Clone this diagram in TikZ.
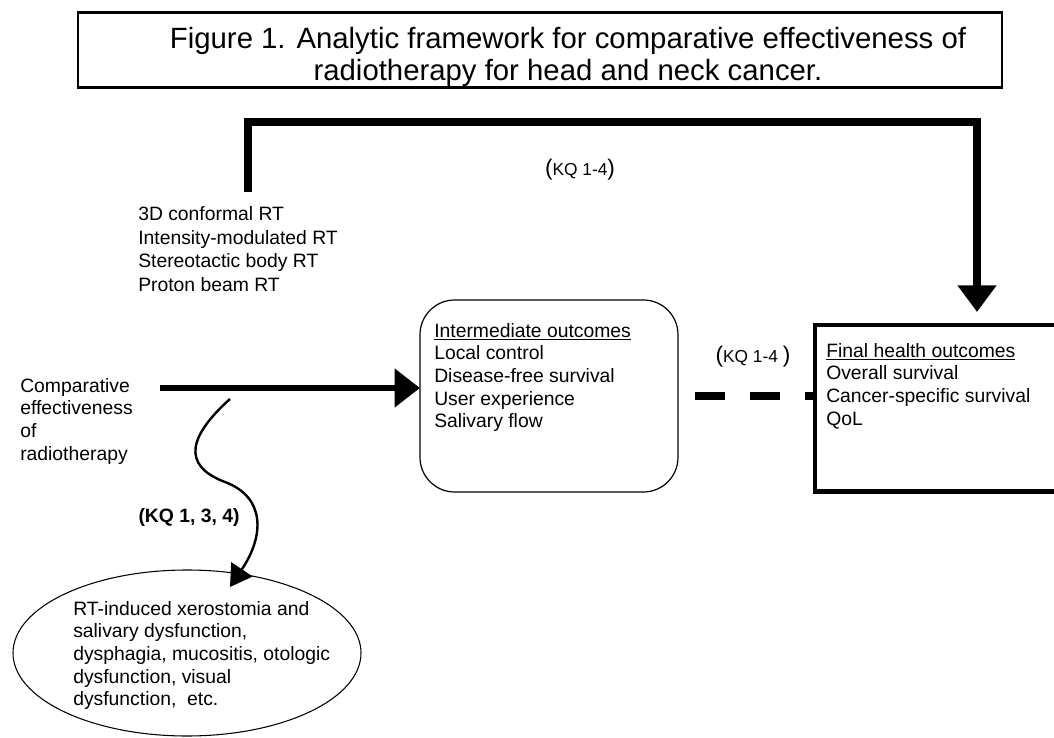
\documentclass[tikz,border=0pt]{standalone}
\usepackage{fontspec}
\setmainfont{Liberation Sans}
\usetikzlibrary{calc,arrows.meta,shapes.geometric,positioning}

\newcommand{\bodyfont}{\fontsize{14.5}{17}\selectfont}
\newcommand{\kqlabel}[1]{{\fontsize{17}{17}\selectfont(}{\fontsize{13}{13}\selectfont #1}{\fontsize{17}{17}\selectfont)}}

\begin{document}
\begin{tikzpicture}[x=0.75pt,y=-0.75pt,
    txt/.style={align=left,inner sep=0pt,font=\bodyfont},
    shape box/.style={draw,inner sep=0pt,outer sep=0pt},
    toparrow/.style={line width=6pt,-{Triangle[length=20pt,width=28pt]}},
    midarrow/.style={line width=5pt,-{Triangle[length=19pt,width=28pt]}},
    wavy/.style={line width=1.8pt,-{Triangle[length=16pt,width=19pt]}},
    dashline/.style={line width=6pt,dash pattern=on 22.5pt off 18.75pt,shorten <=12.75pt}]
        \useasboundingbox (0,0) rectangle (1054,738);
        \clip (0,0) rectangle (1054,738);

        % title
        \node[shape box,line width=1.8pt,minimum width=693pt,minimum height=56pt] (title) at (540,50) {};
        \node[align=center,inner sep=0pt,font=\fontsize{22}{23.5}\selectfont] (titletxt) at (568,57)
            {Figure 1. Analytic framework for comparative effectiveness of\\radiotherapy for head and neck cancer.};

        % boxes
        \node[shape box,line width=0.9pt,rounded corners=26pt,minimum width=193.5pt,minimum height=144pt] (interm) at (549,396) {};
        \node[shape box,line width=3.5pt,anchor=north west,minimum width=187.5pt,minimum height=125pt] (final) at (815,325) {};
        \node[shape box,ellipse,line width=0.8pt,minimum width=261pt,minimum height=124.5pt] (harm) at (187,653) {};

        % texts
        \node[txt,anchor=north west,font=\fontsize{14.5}{17.8}\selectfont] (rtlist) at (138,206)
            {3D conformal RT\\Intensity-modulated RT\\Stereotactic body RT\\Proton beam RT};
        \node[txt,anchor=north west] (comp) at (20,378)
            {Comparative\\effectiveness\\of\\radiotherapy};
        \node[txt,anchor=north west] (intermtxt) at (434,323)
            {\underline{Intermediate outcomes}\\Local control\\Disease-free survival\\User experience\\Salivary flow};
        \node[txt,anchor=north west] (finaltxt) at (826,343)
            {\underline{Final health outcomes}\\Overall survival\\Cancer-specific survival\\QoL};
        \node[txt,anchor=north west] (harmtxt) at (73,601)
            {RT-induced xerostomia and\\salivary dysfunction,\\dysphagia, mucositis, otologic\\dysfunction, visual\\dysfunction,~ etc.};

        \node[inner sep=0pt] (kqtop) at (580,170) {\kqlabel{KQ 1-4}};
        \node[inner sep=0pt] (kqmid) at (753,357) {\kqlabel{KQ 1-4\ }};
        \node[inner sep=0pt,font=\bfseries\bodyfont] (kqharm) at (189,517) {(KQ 1, 3, 4)};

        % connectors
        \coordinate (rtstart) at ($(rtlist.north west)+(110,-14)$);
        \coordinate (finaltop) at (977,312);
        \coordinate (bend) at (977,122);
        \draw[toparrow] (rtstart) |- (bend) -- (finaltop);

        \coordinate (hstart) at (160,388);
        \draw[midarrow] (hstart) -- (hstart -| interm.west);

        \draw[dashline] (interm.east) -- (interm.east -| final.west);

        \coordinate (wstart) at (230,399);
        \coordinate (wend) at ($(harm.north)+(43,17)$);
        \draw[wavy] (wstart) .. controls (190,435) and (180,465) .. (225,482)
            .. controls (265,497) and (265,535) .. (wend);
\end{tikzpicture}
\end{document}
